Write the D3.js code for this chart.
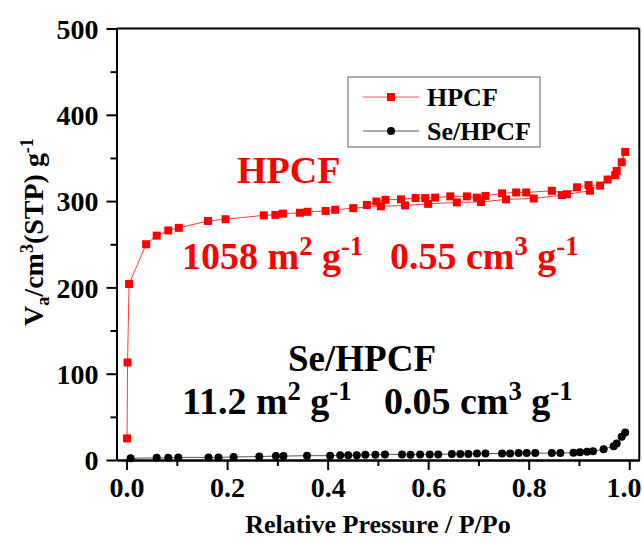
<!DOCTYPE html>
<html><head><meta charset="utf-8">
<script src="https://cdn.jsdelivr.net/npm/d3@7"></script>
<style>
html,body{margin:0;padding:0;background:#fff;}
svg text{font-family:"Liberation Serif","Times New Roman",serif;font-weight:bold;}
</style></head>
<body><svg id="c" width="642" height="544"></svg>
<script>
// HPCF adsorption branch
const hpcfAdsP = [0.001,0.002,0.005,0.039,0.060,0.083,0.104,0.162,0.197,0.273,0.296,0.311,0.345,0.360,0.396,0.415,0.451,0.506,0.554,0.600,0.657,0.705,0.755,0.810,0.866,0.922,0.957,0.975,0.992];
const hpcfAdsV = [25,113,204,250,260,266,269,277,279,283.5,284,285.5,286.5,287.6,288.6,290,291.8,294,295,296.8,298.5,299,302,303,307,312,325,335,357];
// HPCF desorption branch
const hpcfDesP = [0.985,0.972,0.942,0.919,0.896,0.876,0.846,0.795,0.775,0.747,0.714,0.697,0.677,0.644,0.614,0.594,0.575,0.546,0.515,0.497,0.478];
const hpcfDesV = [345,330,318,318.6,316,308,312,310,310,309,306,304,305.5,305.5,304,303.5,303.5,302,301.5,299.5,295.5];
// Se/HPCF
const seP = [0.008,0.060,0.083,0.103,0.163,0.183,0.213,0.264,0.297,0.312,0.359,0.405,0.425,0.441,0.458,0.475,0.495,0.514,0.548,0.565,0.584,0.603,0.620,0.647,0.664,0.680,0.697,0.714,0.747,0.763,0.780,0.796,0.813,0.846,0.863,0.889,0.902,0.916,0.928,0.949,0.969,0.975,0.985,0.992];
const seV = [2,2.5,2.5,3,3,3,3.5,4,4.5,4.5,5,5,5.5,5.5,5.5,6,6,6.5,6.5,6,6.5,6.5,6.5,7,7,7,7.5,7.5,7.5,7.5,8,8,8,8,8,8.5,9,9.5,10,12.5,16,19,27,32];

const xTicks = [0,0.2,0.4,0.6,0.8,1.0];
const xMinor = [0.1,0.3,0.5,0.7,0.9];
const yTicks = [0,100,200,300,400,500];
const yMinor = [50,150,250,350,450];
const seriesNames = ["HPCF","Se/HPCF"];

const svg = d3.select("#c");
const L=116.5, R=639.3, T=28.5, B=460;
const x = d3.scaleLinear().domain([-0.02,1.02]).range([L,R]);
const y = d3.scaleLinear().domain([0,500]).range([B,T]);

// frame top/right
svg.append("line").attr("x1",L).attr("x2",R).attr("y1",T).attr("y2",T).attr("stroke","#000").attr("stroke-width",2);
svg.append("line").attr("x1",R).attr("x2",R).attr("y1",T).attr("y2",B).attr("stroke","#000").attr("stroke-width",2);

// minor ticks
const ax = svg.append("g").attr("transform",`translate(0,${B})`)
  .call(d3.axisBottom(x).tickValues(xMinor).tickSize(6).tickSizeOuter(0).tickFormat(""));
const ay = svg.append("g").attr("transform",`translate(${L},0)`)
  .call(d3.axisLeft(y).tickValues(yMinor).tickSize(6).tickSizeOuter(0).tickFormat(""));
// major
const gx = svg.append("g").attr("transform",`translate(0,${B})`)
  .call(d3.axisBottom(x).tickValues(xTicks).tickSize(10).tickSizeOuter(0).tickPadding(7).tickFormat(d3.format(".1f")));
const gy = svg.append("g").attr("transform",`translate(${L},0)`)
  .call(d3.axisLeft(y).tickValues(yTicks).tickSize(10).tickSizeOuter(0).tickPadding(8).tickFormat(d3.format("d")));
[ax,ay,gx,gy].forEach(g=>{
  g.selectAll("path,line").attr("stroke","#000").attr("stroke-width",2);
  g.selectAll("text").attr("font-size",28).attr("fill","#000").style("font-family",'"Liberation Serif","Times New Roman",serif').style("font-weight","bold");
});
gy.selectAll("text").attr("dy","0.35em");
// keep the last x label inside the picture, as in the reference
gx.selectAll(".tick text").filter(d=>d===1).attr("text-anchor","end").attr("x",641-x(1));

// axis titles
svg.append("text").attr("x",(x(0)+x(1))/2).attr("y",533).attr("text-anchor","middle").attr("font-size",26).text("Relative Pressure / P/Po");
const yt = svg.append("text").attr("transform","translate(43,232) rotate(-90)").attr("text-anchor","middle").attr("font-size",28);
yt.append("tspan").text("V");
yt.append("tspan").attr("font-size",18).attr("dy",6).text("a");
yt.append("tspan").attr("dy",-6).text("/cm");
yt.append("tspan").attr("font-size",18).attr("dy",-10).text("3");
yt.append("tspan").attr("dy",10).text("(STP) g");
yt.append("tspan").attr("font-size",18).attr("dy",-10).text("-1");

// lines
const line = d3.line().x(d=>x(d[0])).y(d=>y(d[1]));
const hpcfAll = hpcfAdsP.map((p,i)=>[p,hpcfAdsV[i]]).concat(hpcfDesP.map((p,i)=>[p,hpcfDesV[i]]));
const seAll = seP.map((p,i)=>[p,seV[i]]);
svg.append("path").datum(seAll).attr("d",line).attr("fill","none").attr("stroke","#555").attr("stroke-width",1);
svg.append("path").datum(hpcfAll).attr("d",line).attr("fill","none").attr("stroke","#ff3b3b").attr("stroke-width",1);
const sq = 8;
svg.append("g").selectAll("rect").data(hpcfAll).join("rect")
  .attr("x",d=>x(d[0])-sq/2).attr("y",d=>y(d[1])-sq/2).attr("width",sq).attr("height",sq).attr("fill","#ff0000");
svg.append("g").selectAll("circle").data(seAll).join("circle")
  .attr("cx",d=>x(d[0])).attr("cy",d=>y(d[1])).attr("r",4).attr("fill","#000");

// annotations
function sup(t, parts, size){
  parts.forEach(p=>{
    if(p.s) t.append("tspan").attr("font-size",size*0.7).attr("dy",-size*0.36).text(p.s);
    else if(p.r) t.append("tspan").attr("font-size",size).attr("dy",size*0.36).text(p.r);
    else t.append("tspan").text(p.t);
  });
}
let t;
svg.append("text").attr("x",237).attr("y",183).attr("font-size",38).attr("fill","#ff0000").text(seriesNames[0]);
t = svg.append("text").attr("x",182).attr("y",269).attr("font-size",38).attr("fill","#ff0000");
sup(t,[{t:"1058 m"},{s:"2"},{r:" g"},{s:"-1"}],38);
t = svg.append("text").attr("x",390).attr("y",269).attr("font-size",38).attr("fill","#ff0000");
sup(t,[{t:"0.55 cm"},{s:"3"},{r:" g"},{s:"-1"}],38);
svg.append("text").attr("x",288).attr("y",371).attr("font-size",37).attr("fill","#000").text(seriesNames[1]);
t = svg.append("text").attr("x",182).attr("y",414).attr("font-size",38).attr("fill","#000");
sup(t,[{t:"11.2 m"},{s:"2"},{r:" g"},{s:"-1"}],38);
t = svg.append("text").attr("x",384).attr("y",414).attr("font-size",38).attr("fill","#000");
sup(t,[{t:"0.05 cm"},{s:"3"},{r:" g"},{s:"-1"}],38);

// legend
const lg = svg.append("g");
lg.append("rect").attr("x",348).attr("y",77).attr("width",192).attr("height",70).attr("fill","#fff").attr("stroke","#777").attr("stroke-width",1.2);
const rows=[97,131];
lg.append("line").attr("x1",363).attr("x2",419).attr("y1",rows[0]).attr("y2",rows[0]).attr("stroke","#ff5555").attr("stroke-width",1);
lg.append("rect").attr("x",391-sq/2).attr("y",rows[0]-sq/2).attr("width",sq).attr("height",sq).attr("fill","#ff0000");
lg.append("line").attr("x1",363).attr("x2",419).attr("y1",rows[1]).attr("y2",rows[1]).attr("stroke","#555").attr("stroke-width",1);
lg.append("circle").attr("cx",391).attr("cy",rows[1]).attr("r",4).attr("fill","#000");
seriesNames.forEach((n,i)=>{
  lg.append("text").attr("x",427).attr("y",rows[i]+9).attr("font-size",26).attr("fill","#000").text(n);
});
</script></body></html>
